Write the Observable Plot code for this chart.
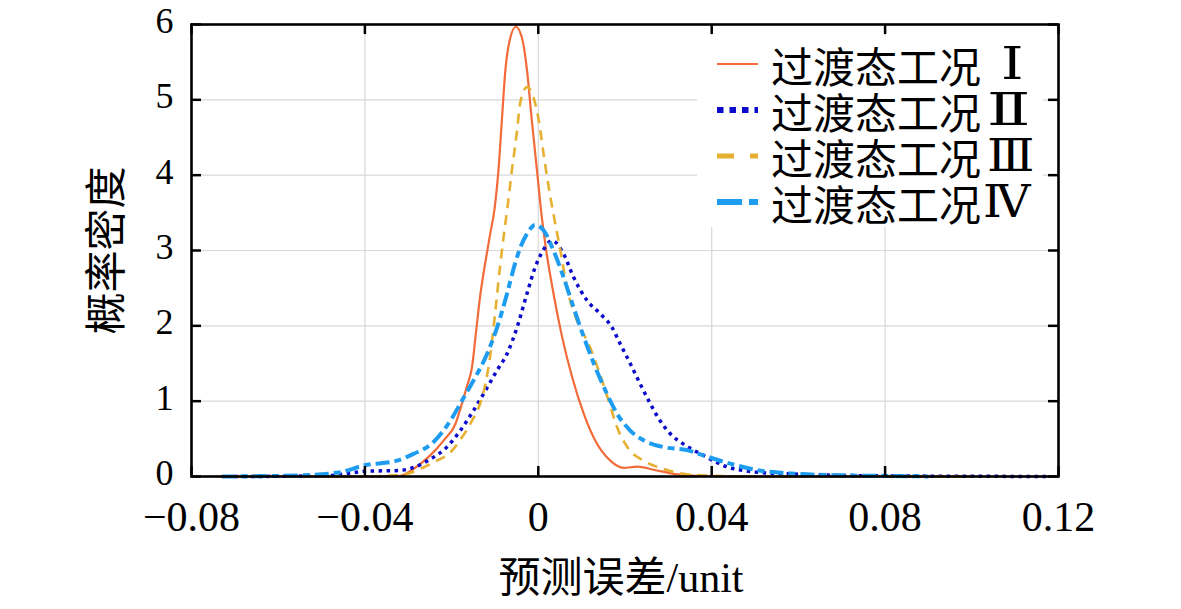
<!DOCTYPE html>
<html>
<head>
<meta charset="utf-8">
<script src="https://cdn.jsdelivr.net/npm/d3@7"></script>
<script src="https://cdn.jsdelivr.net/npm/@observablehq/plot@0.6"></script>
<style>
  html, body { margin: 0; padding: 0; background: white; }
  #wrap { position: relative; width: 1181px; height: 609px; overflow: hidden; }
  #legend { position: absolute; left: 697px; top: 36px; width: 346px; height: 191px; background: white; }
  .row { position: absolute; left: 0; height: 46px; display: flex; align-items: center;
         font-family: 'Liberation Serif', 'DejaVu Serif', 'Noto Sans CJK SC', serif; font-size: 42px; color: #000; white-space: pre; }
  .row svg { margin-left: 20px; margin-right: 13px; }
  .num { display: inline-block; font-size: 44px; transform-origin: left center; }
</style>
</head>
<body>
<div id="wrap"></div>
<script>
// ---- data ----
const seriesPrefix = "过渡态工况";
const seriesNumerals = ["Ⅰ", "Ⅱ", "Ⅲ", "Ⅳ"];
const seriesColors = ["#f26b38", "#0b0bcc", "#e6b030", "#1e9df0"];

const xI = [-0.074, -0.05, -0.04, -0.035, -0.0318, -0.0288, -0.0253, -0.0218, -0.0191, -0.0176, -0.0165, -0.0153, -0.0143, -0.0134, -0.0122, -0.0111, -0.0101, -0.0092, -0.0084, -0.0076, -0.0066, -0.0052, -0.0038, -0.0026, -0.0015, -0.0003, 0.0008, 0.0016, 0.0035, 0.0055, 0.0078, 0.0105, 0.0131, 0.0166, 0.0197, 0.0228, 0.0266, 0.0312, 0.0366, 0.05, 0.08, 0.1];
const yI = [0, 0, 0, 0.004, 0.01, 0.10, 0.26, 0.48, 0.70, 0.97, 1.19, 1.45, 1.95, 2.40, 2.85, 3.22, 3.55, 4.06, 4.73, 5.39, 5.79, 5.97, 5.83, 5.39, 4.73, 4.06, 3.45, 3.09, 2.43, 1.85, 1.32, 0.83, 0.48, 0.21, 0.115, 0.13, 0.09, 0.035, 0.01, 0, 0, 0];

const xII = [-0.07, -0.055, -0.048, -0.044, -0.040, -0.032, -0.0288, -0.0249, -0.0211, -0.018, -0.0149, -0.0122, -0.0095, -0.0072, -0.0049, -0.0026, -0.0007, 0.0008, 0.0032, 0.0058, 0.0081, 0.0112, 0.0143, 0.017, 0.0189, 0.0212, 0.0235, 0.0258, 0.0281, 0.0304, 0.0335, 0.0381, 0.0427, 0.05, 0.06, 0.07, 0.08, 0.1, 0.118];
const yII = [0, 0.005, 0.013, 0.04, 0.07, 0.08, 0.12, 0.23, 0.39, 0.61, 0.88, 1.14, 1.41, 1.63, 1.98, 2.43, 2.78, 2.97, 3.13, 2.96, 2.65, 2.34, 2.16, 1.98, 1.76, 1.50, 1.23, 0.97, 0.74, 0.57, 0.43, 0.28, 0.146, 0.06, 0.03, 0.015, 0.008, 0.003, 0];

const xIII = [-0.07, -0.04, -0.035, -0.0303, -0.0265, -0.0234, -0.0203, -0.0176, -0.0153, -0.0134, -0.0122, -0.0111, -0.0099, -0.0088, -0.008, -0.0071, -0.0061, -0.0049, -0.0042, -0.0026, -0.0011, 0.0001, 0.0012, 0.0024, 0.0037, 0.0051, 0.0066, 0.0089, 0.0116, 0.0139, 0.0162, 0.0182, 0.0208, 0.0243, 0.0289, 0.0335, 0.04, 0.05, 0.1];
const yIII = [0, 0, 0.01, 0.035, 0.12, 0.21, 0.32, 0.52, 0.74, 0.97, 1.23, 1.6, 2.2, 2.8, 3.18, 3.58, 4.06, 4.59, 4.95, 5.17, 5.03, 4.73, 4.29, 3.84, 3.42, 3.0, 2.51, 2.07, 1.76, 1.41, 1.01, 0.65, 0.37, 0.21, 0.10, 0.035, 0.01, 0, 0];

const xIV = [-0.073, -0.0557, -0.0457, -0.0403, -0.0326, -0.0288, -0.0245, -0.0203, -0.0172, -0.0145, -0.0118, -0.0095, -0.0072, -0.0055, -0.0040, -0.0024, -0.0007, 0.0012, 0.0035, 0.0058, 0.0081, 0.0105, 0.0128, 0.0155, 0.0182, 0.0212, 0.0243, 0.0289, 0.0343, 0.0381, 0.0443, 0.05, 0.06, 0.07, 0.08, 0.09];
const yIV = [0, 0.013, 0.057, 0.146, 0.21, 0.30, 0.44, 0.74, 1.05, 1.32, 1.63, 1.98, 2.43, 2.80, 3.06, 3.24, 3.34, 3.27, 3.0, 2.65, 2.25, 1.85, 1.50, 1.14, 0.83, 0.61, 0.48, 0.39, 0.35, 0.28, 0.17, 0.09, 0.035, 0.015, 0.008, 0];

const xTicks = [-0.08, -0.04, 0, 0.04, 0.08, 0.12];
const yTicks = [0, 1, 2, 3, 4, 5, 6];
const xLabel = "预测误差/unit";
const yLabel = "概率密度";

// ---- styles ----
const lineStyles = [
  {strokeWidth: 2.2, dash: null},
  {strokeWidth: 3.5, dash: "3.5,4.5"},
  {strokeWidth: 2.6, dash: "10,7"},
  {strokeWidth: 4, dash: "14,5,7,5"}
];
const legendStyles = [
  {strokeWidth: 2.2, dash: null},
  {strokeWidth: 6, dash: "6.5,6"},
  {strokeWidth: 5, dash: "17,16"},
  {strokeWidth: 6, dash: "25,7,10,7"}
];
const numeralLayout = [
  {scale: 1.3, gap: 20},
  {scale: 1.45, gap: 6},
  {scale: 1.12, gap: 6},
  {scale: 1.08, gap: 2}
];

const series = [[xI, yI], [xII, yII], [xIII, yIII], [xIV, yIV]].map(([xs, ys], k) =>
  xs.map((x, i) => ({x, y: ys[i], k})));

const W = 1181, H = 609;
const mL = 191, mR = 123, mT = 24, mB = 133;
const innerW = W - mL - mR, innerH = H - mT - mB;
const tickLen = 10;
const fmtX = d => Math.abs(d) < 1e-12 ? "0" : d3.format(".2f")(d);
const fmtY = d => String(d);

const font = "'Liberation Serif', 'DejaVu Serif', 'Noto Sans CJK SC', serif";

const chart = Plot.plot({
  width: W, height: H,
  marginLeft: mL, marginRight: mR, marginTop: mT, marginBottom: mB,
  style: {fontFamily: font, background: "white", color: "black", overflow: "visible"},
  x: {domain: [-0.08, 0.12]},
  y: {domain: [0, 6]},
  marks: [
    Plot.gridX(xTicks, {stroke: "#d8d8d8", strokeOpacity: 1, strokeWidth: 1.2}),
    Plot.gridY(yTicks, {stroke: "#d8d8d8", strokeOpacity: 1, strokeWidth: 1.2}),
    ...series.map((data, k) => Plot.line(data, {
      x: "x", y: "y", stroke: seriesColors[k], strokeWidth: lineStyles[k].strokeWidth,
      strokeDasharray: lineStyles[k].dash, curve: "monotone-x", strokeLinecap: "butt", strokeLinejoin: "round"
    })),
    Plot.axisX(xTicks, {tickSize: 0, tickPadding: 25, tickFormat: fmtX, fontSize: 42, label: null}),
    Plot.axisY(yTicks, {tickSize: 0, tickPadding: 18, tickFormat: fmtY, fontSize: 36, dy: -3, label: null}),
    Plot.tickX(xTicks, {x: d => d, insetBottom: innerH - tickLen, stroke: "black", strokeWidth: 2.5}),
    Plot.tickX(xTicks, {x: d => d, insetTop: innerH - tickLen, stroke: "black", strokeWidth: 2.5}),
    Plot.tickY(yTicks, {y: d => d, insetRight: innerW - tickLen, stroke: "black", strokeWidth: 2.5}),
    Plot.tickY(yTicks, {y: d => d, insetLeft: innerW - tickLen, stroke: "black", strokeWidth: 2.5}),
    Plot.frame({stroke: "black", strokeWidth: 2.6}),
    Plot.text([xLabel], {frameAnchor: "bottom", lineAnchor: "middle", textAnchor: "middle", dy: 102, dx: -4, fontSize: 42, fill: "black"}),
    Plot.text([yLabel], {frameAnchor: "left", lineAnchor: "middle", textAnchor: "middle", dx: -84, rotate: -90, fontSize: 42, fill: "black"})
  ]
});

const wrap = document.getElementById("wrap");
wrap.appendChild(chart);

// legend overlay (white box inside the plot area, top-right)
const legend = document.createElement("div");
legend.id = "legend";
const rowCenters = [28, 74, 120, 166];
seriesNumerals.forEach((num, k) => {
  const row = document.createElement("div");
  row.className = "row";
  row.style.top = (rowCenters[k] - 23) + "px";
  const s = legendStyles[k];
  const nl = numeralLayout[k];
  row.innerHTML = `<svg width="41" height="20"><line x1="0" y1="10" x2="41" y2="10" stroke="${seriesColors[k]}" stroke-width="${s.strokeWidth}" ${s.dash ? `stroke-dasharray="${s.dash}"` : ""}/></svg><span>${seriesPrefix}</span><span class="num" style="margin-left:${nl.gap}px;transform:scaleX(${nl.scale})">${num}</span>`;
  legend.appendChild(row);
});
wrap.appendChild(legend);
</script>
</body>
</html>
